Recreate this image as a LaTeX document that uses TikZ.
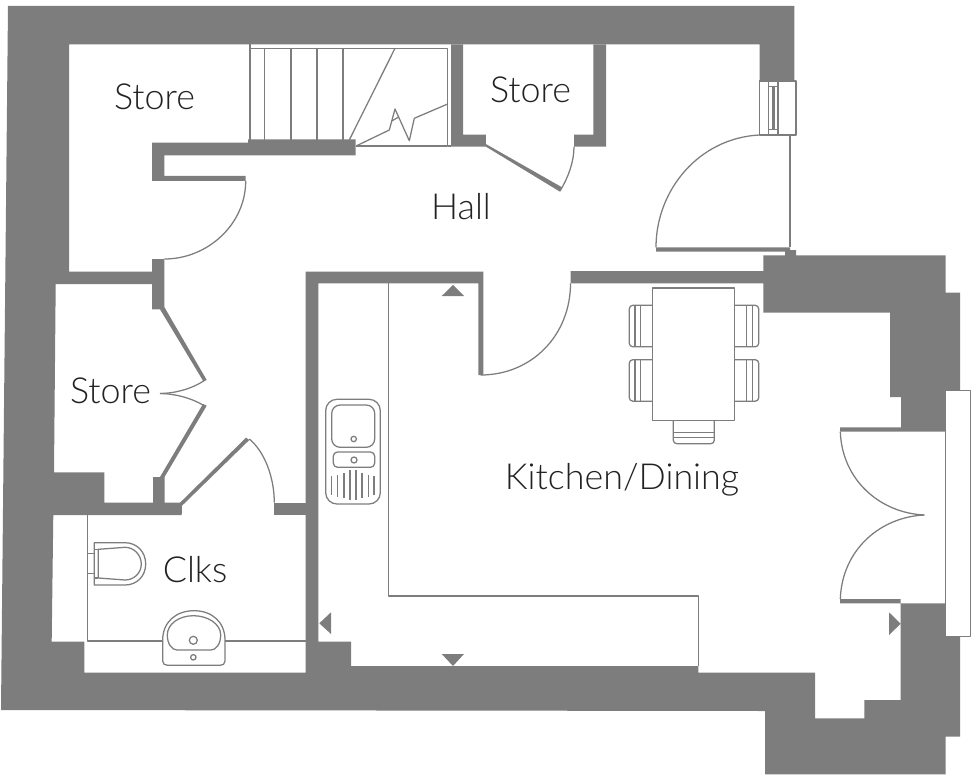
\documentclass[tikz,border=0pt]{standalone}
\usepackage{fontspec}
\setmainfont{Lato}[UprightFont=* Light]
\definecolor{wallgray}{HTML}{7D7D7D}
\definecolor{labelink}{HTML}{222222}
\tikzset{
  wall/.style={fill=wallgray,draw=none},
  fitting/.style={draw=wallgray,line width=0.36pt,line join=round},
  roomlabel/.style={anchor=base,text=labelink,font=\fontsize{10.2pt}{12pt}\selectfont,inner sep=0pt},
}
\begin{document}
\begin{tikzpicture}[x=0.01cm,y=-0.01cm]
    \useasboundingbox (0,0) rectangle (976,776);
    % outer shell
    \path[wall] (794.3,6) -- (8,6) -- (1,710) -- (765,711) -- (765,774.3) -- (945.7,774.3) -- (945.7,736.7)
        -- (960,736.7) -- (960,636.7) -- (945.7,636.7) -- (945.7,603.3) -- (840,603.3) -- (840,599) -- (900.7,599)
        -- (900.7,700) -- (864.3,700) -- (864.3,718.3) -- (815,718.3) -- (815,672.7) -- (698.3,672.7) -- (698.3,666)
        -- (351,666) -- (351,641.7) -- (318.3,641.7) -- (318.3,283.3) -- (478.3,283.3) -- (478.3,375) -- (483.3,375)
        -- (483.3,271.7) -- (305.7,271.7) -- (305.7,672.7) -- (84.3,672.7) -- (84.3,641.7) -- (51.7,641.7)
        -- (53.3,515) -- (181.7,515) -- (182,505.7) -- (249.3,440) -- (246,437.7) -- (180,502.7) -- (164.5,502.7)
        -- (164.5,477) -- (153,477) -- (153,502.7) -- (104.3,502.7) -- (104.3,472.3) -- (54,472.3) -- (55.7,284)
        -- (152,284) -- (152,309.3) -- (164.3,309.3) -- (164.3,259) -- (152,259) -- (152,271.7) -- (69,271.7)
        -- (69,44.5) -- (759.5,44.5) -- (759.5,81) -- (794.3,81) -- cycle;
    % corner by the kitchen
    \path[wall] (570.5,271) -- (763.3,271) -- (763.3,255.3) -- (785,255.3) -- (785,251.7) -- (656,251.7) -- (656,247.3)
        -- (790,247.3) -- (790,250) -- (796,250) -- (796,255.3) -- (945.7,255.3) -- (945.7,292.7) -- (960,292.7)
        -- (960,390.7) -- (945.7,390.7) -- (945.7,431.7) -- (840,431.7) -- (840,427.3) -- (901,427.3) -- (901,397)
        -- (890,397) -- (890,312.7) -- (763.3,312.7) -- (763.3,283.3) -- (570.5,283.3) -- cycle;
    % partitions
    \path[wall] (152,142.7) -- (248,142.7) -- (248,139.5) -- (355.7,139.5) -- (355.7,155.3) -- (164.3,155.3)
        -- (164.3,176) -- (245.7,176) -- (245.7,181) -- (152,181) -- cycle;
    \path[wall] (451,44.5) -- (463,44.5) -- (463,134.7) -- (485.8,134.7) -- (485.8,144) -- (562,187.3) -- (560,191.7)
        -- (486,146.7) -- (451,146.7) -- cycle;
    \path[wall] (593.4,44.5) -- (606,44.5) -- (606,146.7) -- (574,146.7) -- (574,134.7) -- (593.4,134.7) -- cycle;
    \path[wall] (164.3,307) -- (206.7,380) -- (203.5,381.5) -- (160,309.3) -- cycle;
    \path[wall] (206.7,405.7) -- (164.5,477) -- (160,477) -- (203,404) -- cycle;
    \path[wall] (274.3,502.7) -- (305.7,502.7) -- (305.7,515) -- (274.3,515) -- cycle;
    % stairs
    \draw[fitting] (250,140) -- (250,44.5);
    \draw[fitting] (250,48.3) -- (447.7,48.3) -- (447.7,146) -- (355.7,146);
    \foreach \xstep in {264.7,291,317,343} {
        \draw[fitting] (\xstep,48.3) -- (\xstep,140);
    }
    \draw[fitting] (395,48.3) -- (349.3,140);
    \draw[fitting] (356.7,145.7) -- (389.3,130) -- (395,109) -- (409.3,140.7) -- (414.3,118.3) -- (447.7,104);
    \draw[fitting] (391.7,121) -- (398.7,117);
    \draw[fitting] (447.7,146) -- (451,146);
    % door swings
    \draw[fitting] (245.7,181) .. controls (245.7,224) and (208,259) .. (164.3,259);
    \draw[fitting] (574,146.7) .. controls (574,162) and (568,178) .. (560,191);
    \draw[fitting] (759.5,135) .. controls (699,138) and (656,190) .. (656,247.3);
    \draw[fitting] (480.5,375) .. controls (532,375) and (570.5,335) .. (570.5,283.3);
    \draw[fitting] (204,380.7) .. controls (190,390) and (172,393.5) .. (160,393.5);
    \draw[fitting] (204,405.7) .. controls (190,397) and (172,393.5) .. (160,393.5);
    \draw[fitting] (249.3,439) .. controls (265,452) and (274.3,478) .. (274.3,502.7);
    \draw[fitting] (840.3,431.7) .. controls (842,480) and (880,513) .. (924.3,515);
    \draw[fitting] (840.3,599) .. controls (842,550) and (880,517) .. (924.3,515);
    % front door and frames
    \draw[fitting] (759.5,81) rectangle (796,135);
    \draw[fitting] (768.5,81) -- (768.5,135);
    \draw[fitting] (778,81) -- (778,135);
    \draw[fitting] (768.5,86.7) rectangle (778,129.3);
    \draw[fitting] (772.7,86.7) -- (772.7,129.3);
    \draw[fitting] (774,86.7) -- (774,129.3);
    \draw[fitting] (790,135) -- (790,247.3);
    \draw[fitting] (945.7,390.7) rectangle (970.7,636.7);
    % worktop
    \draw[fitting] (388.7,283.3) -- (388.7,596) -- (698.3,596) -- (698.3,666);
    \path[wall] (441.7,296) -- (453,285) -- (464,296) -- cycle;
    \path[wall] (441.7,654) -- (453,666) -- (464,654) -- cycle;
    \path[wall] (331,612.3) -- (319.3,623.3) -- (331,634) -- cycle;
    \path[wall] (889,612.3) -- (900.7,623.7) -- (889,635) -- cycle;
    % sink
    \draw[fitting,rounded corners=3.2pt] (325.7,399.3) rectangle (380.3,504);
    \draw[fitting,rounded corners=2.4pt] (331.7,405) rectangle (374.7,447.3);
    \draw[fitting,rounded corners=1.2pt] (333.3,452) rectangle (374.7,467.3);
    \draw[fitting] (353.7,439) circle[radius=2.7];
    \draw[fitting] (354,460) circle[radius=3];
    \foreach \xdrain/\ytop/\ybot in {331.7/476/495,337.7/475/497,344/473/498,350/470/500,356/470/500,362/473/498,368.3/475/497,374/476/495} {
        \draw[fitting] (\xdrain,\ytop) -- (\xdrain,\ybot);
    }
    % table and chairs
    \draw[fitting] (652.3,288) rectangle (734.7,420.3);
    \foreach \ychair in {305.3,359.7} {
        \draw[fitting,rounded corners=1pt] (652.3,\ychair) -- (629.3,\ychair) -- (629.3,\ychair+41.5) -- (652.3,\ychair+41.5);
        \draw[fitting] (635,\ychair) -- (635,\ychair+41.5);
        \draw[fitting] (640.7,\ychair) -- (640.7,\ychair+41.5);
        \draw[fitting,rounded corners=1pt] (734.7,\ychair) -- (758.7,\ychair) -- (758.7,\ychair+41.5) -- (734.7,\ychair+41.5);
        \draw[fitting] (746.7,\ychair) -- (746.7,\ychair+41.5);
        \draw[fitting] (752.3,\ychair) -- (752.3,\ychair+41.5);
    }
    \draw[fitting,rounded corners=1pt] (673.3,420.3) -- (673.3,443.7) -- (714.3,443.7) -- (714.3,420.3);
    \draw[fitting] (673.3,432.3) -- (714.3,432.3);
    \draw[fitting] (673.3,437.7) -- (714.3,437.7);
    % clks
    \draw[fitting] (87.3,515) -- (87.3,641) -- (162.7,641);
    \draw[fitting] (225,641) -- (305.7,641);
    \draw[fitting] (87.3,553.7) -- (94.3,553.7);
    \draw[fitting] (87.3,573.3) -- (94.3,573.3);
    \draw[fitting] (94.3,542.7) -- (125,542.7) .. controls (137,542.7) and (145.7,552) .. (145.7,564)
        .. controls (145.7,576) and (137,585) .. (125,585) -- (94.3,585) -- cycle;
    \draw[fitting] (98.3,549.3) -- (125,547.3) .. controls (134,547.3) and (141.3,555) .. (141.3,564)
        .. controls (141.3,573) and (134,580) .. (125,580) -- (98.3,578) -- cycle;
    \draw[fitting] (94.3,549.3) -- (98.3,549.3);
    \draw[fitting] (94.3,578) -- (98.3,578);
    \draw[fitting] (162.7,640) .. controls (162.7,622) and (176,610.7) .. (194,610.7)
        .. controls (212,610.7) and (225,622) .. (225,640) -- (225,661) .. controls (225,664) and (223,665.3) .. (220,665.3)
        -- (167.7,665.3) .. controls (164.7,665.3) and (162.7,664) .. (162.7,661) -- cycle;
    \draw[fitting] (167.3,635) .. controls (167.3,624) and (179,615.7) .. (193.3,615.7)
        .. controls (208,615.7) and (220.7,624) .. (220.7,635) .. controls (220.7,644) and (216,650) .. (211,650)
        -- (177,650) .. controls (172,650) and (167.3,644) .. (167.3,635) -- cycle;
    \draw[fitting] (193.3,640.3) circle[radius=4];
    \draw[fitting] (193.3,657.3) circle[radius=2.7];
    % labels
    \node[roomlabel] (storetop) at (154.5,109.5) {Store};
    \node[roomlabel] (storestairs) at (530.5,103) {Store};
    \node[roomlabel] (hall) at (461,219.5) {Hall};
    \node[roomlabel] (storeside) at (110.5,403.5) {Store};
    \node[roomlabel] (clks) at (195,582) {Clks};
    \node[roomlabel] (kitchen) at (622,489.5) {Kitchen/Dining};
\end{tikzpicture}
\end{document}
